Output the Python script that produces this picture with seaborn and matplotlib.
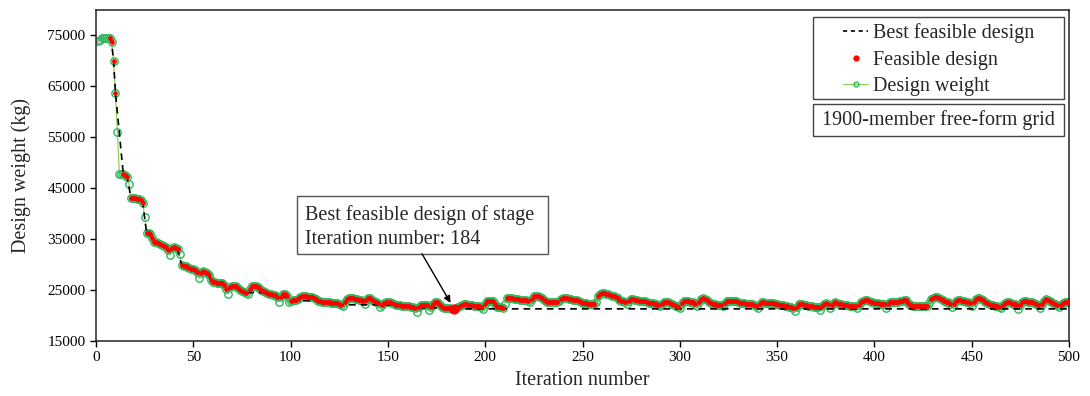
import numpy as np
import pandas as pd
import matplotlib
matplotlib.use("Agg")
import matplotlib.pyplot as plt
from matplotlib.lines import Line2D
from matplotlib.patches import Rectangle
import seaborn as sns

# Design weight (kg) recorded at iterations 1..500
weights = [
    73900, 74100, 74400, 74500, 74500, 74500, 74500, 73600, 70000, 63700,
    56000, 47800, 47800, 47800, 47500, 47100, 45700, 43000, 43000, 43000,
    42900, 42800, 42600, 42100, 39300, 36200, 36100, 35900, 35200, 34500,
    34400, 34300, 34000, 33800, 33700, 33500, 32800, 31900, 33300, 33400,
    33300, 33000, 32000, 29900, 29800, 29700, 29500, 29300, 29200, 29100,
    29000, 28600, 27300, 28300, 28700, 28600, 28300, 28000, 27000, 26600,
    26500, 26400, 26400, 26300, 26300, 26000, 25200, 24300, 25500, 25700,
    25800, 25800, 25400, 25000, 24900, 24700, 24500, 24300, 25200, 25700,
    25700, 25700, 25600, 25300, 25000, 24900, 24700, 24400, 24300, 24200,
    24100, 24000, 23600, 22700, 23700, 24200, 24200, 23800, 22700, 22900,
    23000, 23000, 23100, 23300, 23600, 23800, 23800, 23800, 23700, 23700,
    23700, 23500, 23200, 22900, 22800, 22700, 22700, 22600, 22600, 22600,
    22500, 22500, 22400, 22400, 22300, 22100, 21850, 22600, 23300, 23400,
    23400, 23500, 23300, 23200, 23100, 23000, 22800, 22200, 23000, 23400,
    23400, 23100, 22800, 22700, 22400, 21700, 22100, 22500, 22700, 22700,
    22700, 22500, 22300, 22100, 22050, 22000, 21900, 21850, 21850, 21800,
    21800, 21700, 21700, 21500, 20700, 21600, 22000, 22050, 22050, 22000,
    21000, 21700, 22300, 22600, 22600, 22400, 22000, 21600, 21500, 21500,
    21450, 21400, 21350, 21300, 21400, 21600, 21800, 22100, 22200, 22200,
    22100, 22000, 22000, 21950, 21900, 21900, 21800, 21700, 21200, 22300,
    22800, 22900, 22900, 22800, 22300, 21700, 21600, 21600, 21500, 22200,
    23400, 23500, 23500, 23400, 23300, 23200, 23200, 23100, 23000, 23000,
    23000, 22900, 22600, 23300, 23800, 23900, 23900, 23700, 23400, 23100,
    22900, 22700, 22700, 22700, 22600, 22600, 22600, 22900, 23300, 23500,
    23500, 23400, 23300, 23200, 23100, 23000, 23000, 22900, 22700, 22500,
    22400, 22400, 22300, 22300, 22250, 22200, 22700, 23800, 24300, 24350,
    24350, 24300, 24200, 24000, 23900, 23900, 23700, 23400, 23100, 22900,
    22900, 22600, 22250, 22900, 23200, 23200, 23100, 23000, 22900, 22900,
    22900, 22800, 22600, 22500, 22400, 22400, 22300, 22200, 22000, 21850,
    22300, 22600, 22600, 22600, 22400, 22200, 22000, 21800, 21600, 21400,
    22500, 22900, 22900, 22800, 22700, 22600, 22600, 22300, 21800, 22700,
    23300, 23400, 23300, 23000, 22700, 22400, 22250, 22200, 22100, 22050,
    22000, 21900, 22500, 22900, 22900, 22900, 22900, 22900, 22800, 22600,
    22500, 22400, 22400, 22300, 22300, 22250, 22250, 22100, 21800, 21400,
    22200, 22600, 22600, 22500, 22500, 22400, 22400, 22400, 22300, 22200,
    22100, 22050, 22000, 21900, 21800, 21700, 21700, 21500, 20900, 21700,
    22200, 22250, 22200, 22100, 22000, 21850, 21850, 21800, 21750, 21700,
    21600, 21000, 21800, 22300, 22400, 22200, 21400, 22000, 22500, 22600,
    22500, 22300, 22200, 22100, 22050, 22000, 21900, 21900, 21850, 21850,
    21400, 22000, 22600, 22900, 23000, 23000, 22900, 22700, 22600, 22500,
    22500, 22400, 22300, 22250, 22200, 21400, 22200, 22600, 22700, 22700,
    22700, 22700, 22800, 22900, 23000, 23000, 22700, 22300, 22000, 21850,
    21850, 21850, 21850, 21850, 21850, 21850, 21800, 22500, 23200, 23500,
    23550, 23550, 23500, 23300, 23000, 22800, 22600, 22600, 22200, 21700,
    22300, 22800, 23000, 23000, 22900, 22800, 22600, 22600, 22400, 21900,
    22600, 23200, 23400, 23400, 23300, 23000, 22700, 22400, 22300, 22100,
    22000, 21900, 21900, 21700, 21400, 22000, 22500, 22600, 22600, 22400,
    22300, 22250, 22000, 21300, 22100, 22700, 22900, 22900, 22700, 22600,
    22600, 22400, 22250, 22100, 21500, 22200, 22900, 23200, 23100, 22900,
    22600, 22400, 22300, 22000, 21700, 22100, 22500, 22700, 22700, 22600,
]

# Iterations whose design violated a constraint
infeasible_iters = [1, 2, 3, 4, 5, 6, 11, 12, 13, 17, 25, 38, 43, 53, 68, 78,
                    94, 99, 127, 138, 146, 165, 171, 199, 210, 223, 238, 257,
                    273, 290, 300, 309, 322, 340, 359, 372, 377, 391, 406, 428,
                    440, 450, 465, 474, 485, 495]

x_ticks = list(range(0, 501, 50))
y_ticks = list(range(15000, 75001, 10000))

df = pd.DataFrame({"iteration": np.arange(1, len(weights) + 1), "weight": weights})
df["feasible"] = ~df["iteration"].isin(infeasible_iters)
feas = df[df["feasible"]].copy()
feas["best"] = feas["weight"].cummin()
best_row = feas.loc[feas["weight"].idxmin()]
best_iter, best_weight = int(best_row["iteration"]), best_row["weight"]

sns.set_style("ticks")
plt.rcParams["font.family"] = ["Liberation Serif", "DejaVu Serif"]

W, H = 1090, 396
fig = plt.figure(figsize=(W / 100, H / 100), dpi=100)
ax_l, ax_r, ax_t, ax_b = 96, 1069, 9.5, 341
ax = fig.add_axes([ax_l / W, 1 - ax_b / H, (ax_r - ax_l) / W, (ax_b - ax_t) / H])


def axfrac(px, py):
    """Pixel position on the figure -> axes fraction."""
    return (px - ax_l) / (ax_r - ax_l), (ax_b - py) / (ax_b - ax_t)


green_line = "#92D050"
green_mark = "#2EB85C"
txt_size = 14.5

sns.lineplot(data=df, x="iteration", y="weight", ax=ax, color=green_line,
             lw=0.9, marker="o", markersize=5.3, markerfacecolor="none",
             markeredgecolor=green_mark, markeredgewidth=1.0, zorder=2)
sns.lineplot(data=feas, x="iteration", y="best", ax=ax, color="black",
             lw=1.2, linestyle=(0, (4, 3)), zorder=3)
ax.plot([feas["iteration"].iloc[-1], 500], [feas["best"].iloc[-1]] * 2,
        color="black", lw=1.2, linestyle=(0, (4, 3)), zorder=3)
sns.scatterplot(data=feas, x="iteration", y="weight", ax=ax, color="#FF0000",
                s=12, linewidth=0, zorder=4)
ax.scatter([best_iter], [best_weight], s=55, color="#FF0000", linewidths=0, zorder=5)

ax.set_xlim(0, 500)
ax.set_ylim(15000, 80000)
ax.set_xticks(x_ticks)
ax.set_yticks(y_ticks)
ax.tick_params(direction="out", length=4, width=1, labelsize=11, colors="black")
for s in ax.spines.values():
    s.set_visible(True)
    s.set_color("#222222")
    s.set_linewidth(1.1)
ax.set_xlabel("Iteration number", fontsize=txt_size, labelpad=5)
ax.set_ylabel("Design weight (kg)", fontsize=txt_size, labelpad=12)

# Annotation box and arrow for the best feasible design
ax.add_patch(Rectangle((103.3, 32100), 129, 11400, facecolor="white",
                       edgecolor="#555555", lw=1.0, zorder=6))
ax.text(107.5, 37300, f"Best feasible design of stage\nIteration number: {best_iter}",
        fontsize=txt_size, va="center", ha="left", linespacing=1.38, zorder=7)
ax.annotate("", xy=(best_iter, best_weight), xytext=(167.5, 32100),
            arrowprops=dict(arrowstyle="-|>", color="black", lw=1.0,
                            shrinkA=0, shrinkB=5, mutation_scale=10), zorder=6)

# Legend with its own frame
x0, y0 = axfrac(813, 99)
x1, y1 = axfrac(1064, 17)
ax.add_patch(Rectangle((x0, y0), x1 - x0, y1 - y0, transform=ax.transAxes,
                       facecolor="white", edgecolor="#444444", lw=1.0, zorder=6))
handles = [
    Line2D([], [], color="black", lw=1.2, linestyle=(0, (2.5, 2.2))),
    Line2D([], [], color="#FF0000", marker="o", markersize=3.5, linestyle="none"),
    Line2D([], [], color=green_line, lw=0.9, marker="o", markersize=3.5,
           markerfacecolor="none", markeredgecolor=green_mark),
]
labels = ["Best feasible design", "Feasible design", "Design weight"]
leg = ax.legend(handles, labels, loc="upper left", bbox_to_anchor=axfrac(843, 23.5),
                borderaxespad=0, borderpad=0, frameon=False, fontsize=txt_size,
                handlelength=1.25, handletextpad=0.25, labelspacing=0.36)
leg.set_zorder(7)

bx0, by0 = axfrac(813, 136)
bx1, by1 = axfrac(1064, 104)
ax.add_patch(Rectangle((bx0, by0), bx1 - bx0, by1 - by0, transform=ax.transAxes,
                       facecolor="white", edgecolor="#444444", lw=1.0, zorder=6))
ax.text(*axfrac(938.5, 120), "1900-member free-form grid", transform=ax.transAxes,
        fontsize=txt_size, ha="center", va="center", zorder=7)

fig.savefig("out.png", dpi=100)
